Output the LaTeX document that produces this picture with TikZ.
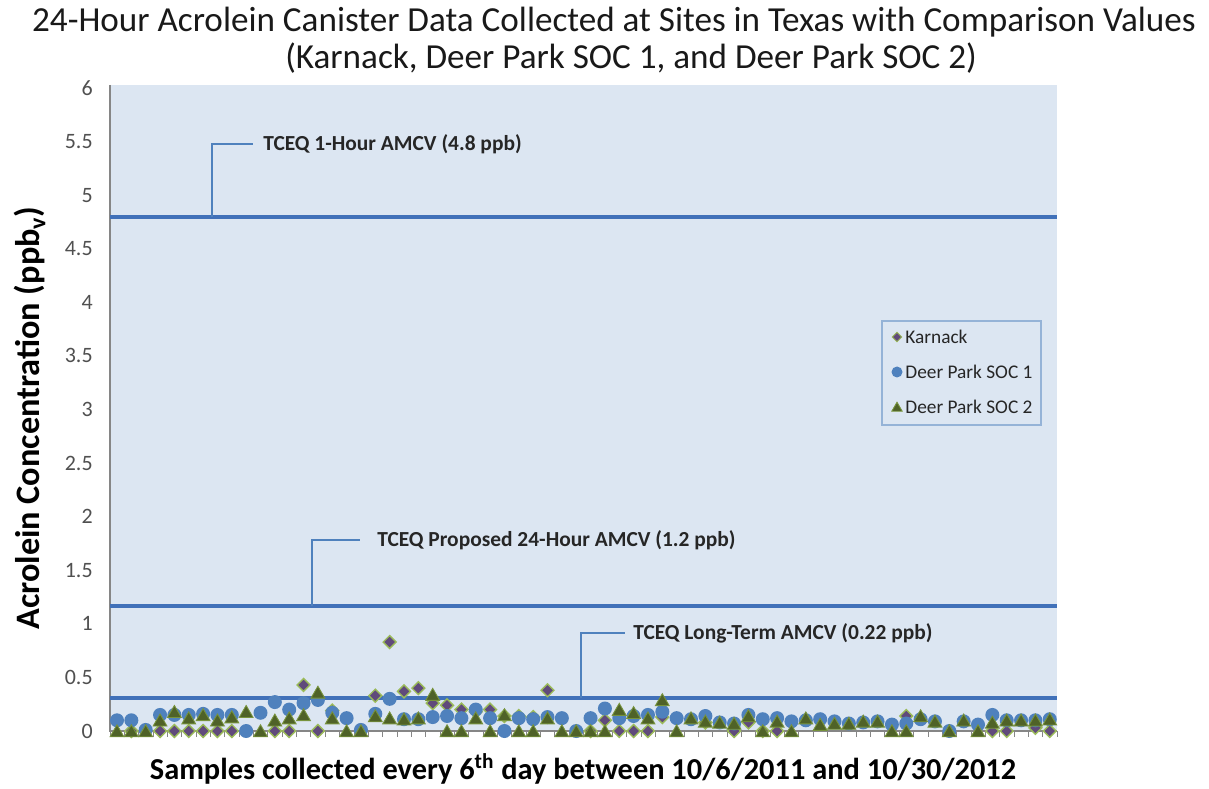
\documentclass[tikz,border=0pt]{standalone}
\usepackage{fontspec}
\setmainfont{Carlito}
\usetikzlibrary{shapes.geometric}
\definecolor{plotbg}{RGB}{220,230,242}
\definecolor{refline}{RGB}{65,113,185}
\definecolor{calloutc}{RGB}{79,129,189}
\definecolor{kfill}{RGB}{96,74,123}
\definecolor{kedge}{RGB}{155,187,89}
\definecolor{cfill}{RGB}{79,129,189}
\definecolor{tfill}{RGB}{79,98,40}
\definecolor{tedge}{RGB}{119,147,60}
\definecolor{axisgray}{RGB}{134,134,134}
\definecolor{ticktext}{RGB}{80,80,80}
\definecolor{legedge}{RGB}{149,179,215}
\begin{document}
\begin{tikzpicture}[x=0.02cm,y=0.02cm,
  kmark/.style={diamond, fill=kfill, draw=kedge, line width=0.8pt, inner sep=0pt, minimum size=0.27cm},
  cmark/.style={circle, fill=cfill, inner sep=0pt, minimum size=0.28cm},
  tmark/.style={regular polygon, regular polygon sides=3, fill=tfill, draw=tedge, line width=0.5pt, inner sep=0pt, minimum size=0.32cm, yshift=-0.035cm},
  refl/.style={draw=refline, line width=2.3pt},
  callout/.style={draw=calloutc, line width=1.1pt},
  annot/.style={font=\fontsize{12.2}{14}\selectfont\bfseries, text=black!85, inner sep=0pt, anchor=west},
  ticklab/.style={font=\fontsize{12.5}{14}\selectfont, text=ticktext, anchor=east, inner sep=0pt},
  legtext/.style={font=\fontsize{11}{13}\selectfont, text=black!85, anchor=west, inner sep=0pt},
  titlefont/.style={font=\fontsize{20}{24}\selectfont, text=black!90, inner sep=0pt},
  axlabel/.style={font=\bfseries, text=black, inner sep=0pt}
]
\useasboundingbox[fill=white] (0,0) rectangle (1209,788);
% plot area
\fill[plotbg] (110,57) rectangle (1057,703);
\draw[axisgray, line width=0.6pt] (110,703) -- (110,57) -- (1057,57);
\foreach \k in {0,...,66} {
  \draw[axisgray, line width=0.5pt] ({110+14.35*\k},57) -- ({110+14.35*\k},51);
}
% titles
\node[titlefont] (t1) at (614,766) {24-Hour Acrolein Canister Data Collected at Sites in Texas with Comparison Values};
\node[titlefont] (t2) at (631,730) {(Karnack, Deer Park SOC 1, and Deer Park SOC 2)};
\node[axlabel, rotate=90, font=\fontsize{19.5}{22}\selectfont\bfseries] (ylab) at (30,370) {Acrolein Concentration (ppb\textsubscript{v})};
\node[axlabel, font=\fontsize{17.3}{20}\selectfont\bfseries] (xlab) at (583,19) {Samples collected every 6\textsuperscript{th} day between 10/6/2011 and 10/30/2012};
\begin{scope}[yshift=1.14cm, y=2.144cm]
  \foreach \v in {0,0.5,1,1.5,2,2.5,3,3.5,4,4.5,5,5.5,6} {
    \node[ticklab] (yt\v) at (93,\v) {\v};
  }
  % reference lines
  \coordinate (l1a) at (110,4.8); \coordinate (l1b) at (1057,4.8);
  \coordinate (l2a) at (110,1.17); \coordinate (l2b) at (1057,1.17);
  \coordinate (l3a) at (110,0.31); \coordinate (l3b) at (1057,0.31);
  \draw[refl] (l1a) -- (l1b);
  \draw[refl] (l2a) -- (l2b);
  \draw[refl] (l3a) -- (l3b);
  \coordinate (cal1) at (212,4.8);
  \coordinate (cal2) at (312,1.17);
  \coordinate (cal3) at (581,0.31);
  % data
  \foreach \i/\v in {1/0,3/0,4/0,5/0,6/0,7/0,8/0,11/0,12/0,13/.43,14/0,15/.19,18/.33,19/.83,20/.37,21/.40,22/.26,23/.24,24/.20,25/.18,26/.20,27/.14,28/.14,29/.13,30/.38,33/0,34/.10,35/0,36/0,37/0,38/.13,41/.08,43/0,44/.08,45/0,46/0,55/.14,61/0,62/0,64/.03,65/0} {
    \node[kmark] (k\i) at ({117+14.35*\i},\v) {};
  }
  \foreach \i/\v in {0/.10,1/.10,2/.01,3/.15,4/.15,5/.15,6/.16,7/.15,8/.15,9/0,10/.17,11/.27,12/.20,13/.26,14/.29,15/.17,16/.12,17/.01,18/.16,19/.30,20/.11,21/.11,22/.13,23/.14,24/.12,25/.20,26/.12,27/0,28/.12,29/.11,30/.13,31/.12,32/0,33/.12,34/.21,35/.12,36/.14,37/.15,38/.18,39/.12,40/.11,41/.14,42/.08,43/.07,44/.15,45/.11,46/.12,47/.09,48/.10,49/.11,50/.09,51/.07,52/.08,53/.09,54/.06,55/.07,56/.11,57/.09,58/0,59/.09,60/.06,61/.15,62/.10,63/.10,64/.10,65/.11} {
    \node[cmark] (c\i) at ({117+14.35*\i},\v) {};
  }
  \foreach \i/\v in {0/0,1/0,2/0,3/.10,4/.18,5/.12,6/.15,7/.10,8/.13,9/.18,10/0,11/.10,12/.12,13/.15,14/.36,15/.12,16/0,17/0,18/.14,19/.12,20/.11,21/.12,22/.34,23/0,24/0,25/.12,26/0,27/.15,28/0,29/0,30/.12,31/0,32/0,33/0,34/0,35/.20,36/.17,37/.12,38/.29,39/0,40/.12,41/.09,42/.08,43/.07,44/.14,45/0,46/.09,47/0,48/.12,49/.06,50/.07,51/.07,52/.09,53/.09,54/0,55/0,56/.14,57/.09,58/0,59/.10,60/0,61/.08,62/.10,63/.10,64/.10,65/.11} {
    \node[tmark] (s\i) at ({117+14.35*\i},\v) {};
  }
\end{scope}
% annotations
\node[annot] (a1) at (263,644) {TCEQ 1-Hour AMCV (4.8 ppb)};
\node[annot] (a2) at (377,248) {TCEQ Proposed 24-Hour AMCV (1.2 ppb)};
\node[annot] (a3) at (633,155) {TCEQ Long-Term AMCV (0.22 ppb)};
\draw[callout, shorten >=0.2cm] (cal1) |- (a1.west);
\draw[callout, shorten >=0.34cm] (cal2) |- (a2.west);
\draw[callout, shorten >=0.16cm] (cal3) |- (a3.west);
% legend
\draw[legedge, fill=plotbg, line width=0.8pt] (882,363) rectangle (1041,467);
\node[kmark, minimum size=0.2cm, line width=0.5pt] (lk) at (897,451) {};
\node[cmark, minimum size=0.22cm] (lc) at (897,416) {};
\node[tmark, minimum size=0.24cm, yshift=0.01cm] (lt) at (897,381) {};
\node[legtext] (lkt) at (905,451) {Karnack};
\node[legtext] (lct) at (905,416) {Deer Park SOC 1};
\node[legtext] (ltt) at (905,381) {Deer Park SOC 2};
\end{tikzpicture}
\end{document}
